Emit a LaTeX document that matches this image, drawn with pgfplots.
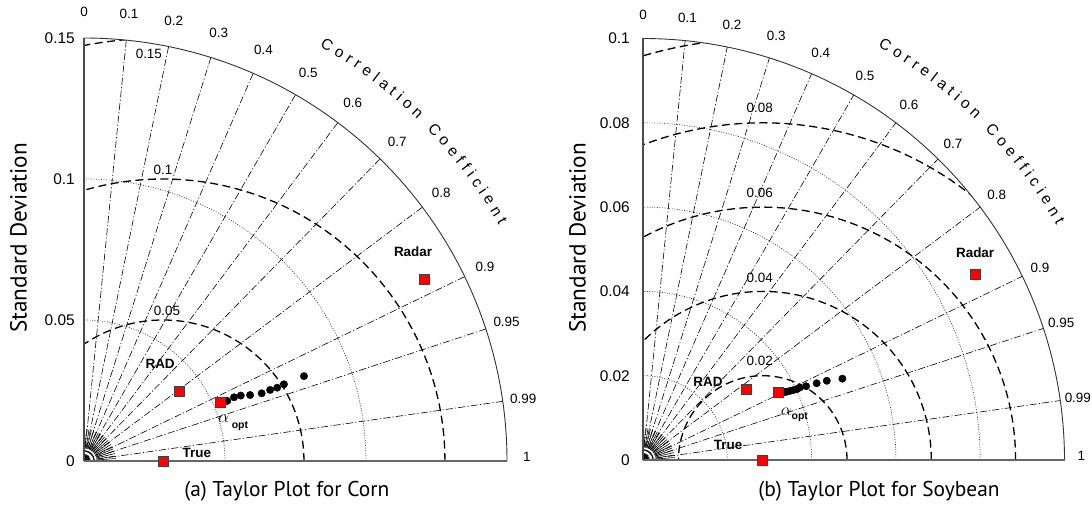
\documentclass[border=0pt]{standalone}
\usepackage{pgfplots}
\pgfplotsset{compat=1.18}
\usepackage{fontspec}
\setmainfont{Liberation Sans}
\newfontfamily\ptsans{PT Sans}
\usetikzlibrary{decorations.text}

\tikzset{
  corrline/.style={black, line width=0.6bp, dash pattern=on 7bp off 2.2bp on 1.2bp off 2.2bp},
  rmsline/.style={black, line width=1.3bp, dash pattern=on 8bp off 4.5bp},
  stdline/.style={black!80, line width=0.7bp, dash pattern=on 0.9bp off 1.6bp},
  outerarc/.style={black!80, line width=0.9bp},
  corrlab/.style={font=\fontsize{13.5}{14}\selectfont, inner sep=0pt},
  ticklab/.style={font=\fontsize{15.5}{16}\selectfont, inner sep=0pt, anchor=east},
  ptlab/.style={font=\fontsize{13.5}{14}\selectfont\bfseries, inner sep=0pt},
  rmslab/.style={font=\fontsize{13.5}{14}\selectfont, inner sep=0pt},
  big/.style={font=\ptsans\fontsize{21.5}{22}\selectfont, inner sep=0pt},
  bigy/.style={font=\ptsans\fontsize{23.3}{24}\selectfont, inner sep=0pt},
}
\newcommand\corrfont{\fontsize{15.5}{15.5}\selectfont}

% #1 R, #2 reference std, #3 RMSD radii, #4 std radii, #5 label radius factor
\newcommand\taylorgrid[5]{%
  \begin{scope}
    \clip (axis cs:0,0) -- (axis cs:#1,0) \foreach \myt in {1,2,...,90}{ -- (axis cs:{#1*cos(\myt)},{#1*sin(\myt)})} -- cycle;
    \foreach \s in {#4}{
      \draw[stdline] (axis cs:\s,0) \foreach \myt in {1,2,...,90}{ -- (axis cs:{\s*cos(\myt)},{\s*sin(\myt)})};
    }
    \foreach \cc in {0.1,0.2,0.3,0.4,0.5,0.6,0.7,0.8,0.9,0.95,0.99}{
      \pgfmathsetmacro\ang{acos(\cc)}
      \draw[corrline] (axis cs:0,0) -- (axis cs:{#1*cos(\ang)},{#1*sin(\ang)});
    }
    \foreach \q in {#3}{
      \draw[rmsline] (axis cs:{#2+\q},0) \foreach \myt in {2,4,...,180}{ -- (axis cs:{#2+\q*cos(\myt)},{\q*sin(\myt)})};
    }
    \foreach \myt in {4.5,9,...,85.5}{
      \draw[black, line width=0.6bp] (axis cs:{0.03*#1*cos(\myt)},{0.03*#1*sin(\myt)}) -- (axis cs:{0.075*#1*cos(\myt)},{0.075*#1*sin(\myt)});
    }
    \foreach \s in {0.012,0.024}{
      \draw[black, line width=1bp] (axis cs:{\s*#1},0) \foreach \myt in {5,10,...,90}{ -- (axis cs:{\s*#1*cos(\myt)},{\s*#1*sin(\myt)})};
    }
  \end{scope}
  \draw[outerarc] (axis cs:#1,0) \foreach \myt in {1,2,...,90}{ -- (axis cs:{#1*cos(\myt)},{#1*sin(\myt)})};
  \draw[black!60, line width=1.2bp] (axis cs:0,0) -- (axis cs:#1,0);
  \draw[black!70, line width=1.8bp] (axis cs:0,0) -- (axis cs:0,#1);
  \foreach \cc/\ll in {0/0,0.1/0.1,0.2/0.2,0.3/0.3,0.4/0.4,0.5/0.5,0.6/0.6,0.7/0.7,0.8/0.8,0.9/0.9,0.95/0.95,0.99/0.99}{
    \pgfmathsetmacro\ang{acos(\cc)}
    \pgfmathsetmacro\ff{#5+0.015*sin(\ang)}
    \node[corrlab] at (axis cs:{\ff*#1*cos(\ang)},{\ff*#1*sin(\ang)}) {\ll};
  }
  \node[corrlab, yshift=4bp] at (axis cs:{#5*#1},0) {1};
  \path[decorate, decoration={text along path, text={|\corrfont|Correlation Coefficient}, text align={fit to path}}]
    (axis cs:{1.128*#1*cos(60.4)},{1.128*#1*sin(60.4)}) \foreach \myt in {60,59,...,30}{ -- (axis cs:{1.128*#1*cos(\myt)},{1.128*#1*sin(\myt)})} -- (axis cs:{1.128*#1*cos(29.6)},{1.128*#1*sin(29.6)});
}

\begin{document}
\begin{tikzpicture}
\path[use as bounding box] (0,0) rectangle (1092bp,506bp);

% ---------------- (a) Corn ----------------
\begin{axis}[
  at={(84bp,45bp)}, anchor=south west,
  scale only axis, width=423bp, height=423bp,
  xmin=0, xmax=0.15, ymin=0, ymax=0.15,
  hide axis, clip=false,
]
\pgfplotsextra{\taylorgrid{0.15}{0.028}{0.05,0.1,0.15}{0.05,0.1}{1.047}}
\addplot[only marks, mark=*, mark size=3.7bp, black] coordinates {
  (0.0508,0.0213) (0.0532,0.0226) (0.0556,0.0232) (0.0589,0.0234) (0.0630,0.0240)
  (0.0660,0.0252) (0.0685,0.0260) (0.0709,0.0272) (0.0780,0.0301)
};
\addplot[only marks, mark=square*, mark size=5bp, mark options={fill=red, draw=black!75, line width=0.6bp}] coordinates {
  (0.028,0) (0.0337,0.0246) (0.0485,0.0209) (0.1208,0.0645)
};
\node[ptlab] at (axis cs:0.1167,0.0741) {Radar};
\node[ptlab] at (axis cs:0.0270,0.0344) {RAD};
\node[ptlab] at (axis cs:0.0400,0.0028) {True};
\node[inner sep=0pt] at (axis cs:0.0496,0.0149) {\fontsize{19}{19}\selectfont$\alpha$};
\node[inner sep=0pt, font=\fontsize{10.5}{11}\selectfont\bfseries] at (axis cs:0.0553,0.0124) {opt};
\node[rmslab] at (axis cs:0.0294,0.0532) {0.05};
\node[rmslab] at (axis cs:0.0280,0.1032) {0.1};
\node[rmslab] at (axis cs:0.0230,0.1443) {0.15};
\node[ticklab] at ([xshift=-9bp]axis cs:0,0) {0};
\node[ticklab] at ([xshift=-9bp]axis cs:0,0.05) {0.05};
\node[ticklab] at ([xshift=-9bp]axis cs:0,0.1) {0.1};
\node[ticklab] at ([xshift=-9bp]axis cs:0,0.15) {0.15};
\end{axis}

% ---------------- (b) Soybean ----------------
\begin{axis}[
  at={(643bp,46bp)}, anchor=south west,
  scale only axis, width=421.5bp, height=421.5bp,
  xmin=0, xmax=0.1, ymin=0, ymax=0.1,
  hide axis, clip=false,
]
\pgfplotsextra{\taylorgrid{0.1}{0.0284}{0.02,0.04,0.06,0.08,0.1}{0.02,0.04,0.06,0.08}{1.04}}
\addplot[only marks, mark=*, mark size=3.7bp, black] coordinates {
  (0.0328,0.0160) (0.0335,0.0161) (0.0341,0.0162) (0.0349,0.0164) (0.0357,0.0166)
  (0.0365,0.0168) (0.0372,0.0172) (0.0387,0.0175) (0.0412,0.0182) (0.0436,0.0188)
  (0.0473,0.0193)
};
\addplot[only marks, mark=square*, mark size=5bp, mark options={fill=red, draw=black!75, line width=0.6bp}] coordinates {
  (0.0284,0) (0.0244,0.0168) (0.0321,0.0160) (0.0789,0.0441)
};
\node[ptlab] at (axis cs:0.0788,0.0493) {Radar};
\node[ptlab] at (axis cs:0.0154,0.0185) {RAD};
\node[ptlab] at (axis cs:0.0202,0.0036) {True};
\node[inner sep=0pt] at (axis cs:0.0340,0.0114) {\fontsize{19}{19}\selectfont$\alpha$};
\node[inner sep=0pt, font=\fontsize{10.5}{11}\selectfont\bfseries] at (axis cs:0.0372,0.0101) {opt};
\node[rmslab] at (axis cs:0.0277,0.0234) {0.02};
\node[rmslab] at (axis cs:0.0277,0.0432) {0.04};
\node[rmslab] at (axis cs:0.0277,0.0633) {0.06};
\node[rmslab] at (axis cs:0.0277,0.0835) {0.08};
\node[ticklab] at ([xshift=-13bp]axis cs:0,0) {0};
\node[ticklab] at ([xshift=-13bp]axis cs:0,0.02) {0.02};
\node[ticklab] at ([xshift=-13bp]axis cs:0,0.04) {0.04};
\node[ticklab] at ([xshift=-13bp]axis cs:0,0.06) {0.06};
\node[ticklab] at ([xshift=-13bp]axis cs:0,0.08) {0.08};
\node[ticklab] at ([xshift=-13bp]axis cs:0,0.1) {0.1};
\end{axis}

\node[bigy, rotate=90] at (18.5bp,268bp) {Standard Deviation};
\node[bigy, rotate=90] at (577.5bp,268bp) {Standard Deviation};
\node[big] at (286.8bp,15bp) {(a) Taylor Plot for Corn};
\node[big] at (879bp,15bp) {(b) Taylor Plot for Soybean};
\end{tikzpicture}
\end{document}
